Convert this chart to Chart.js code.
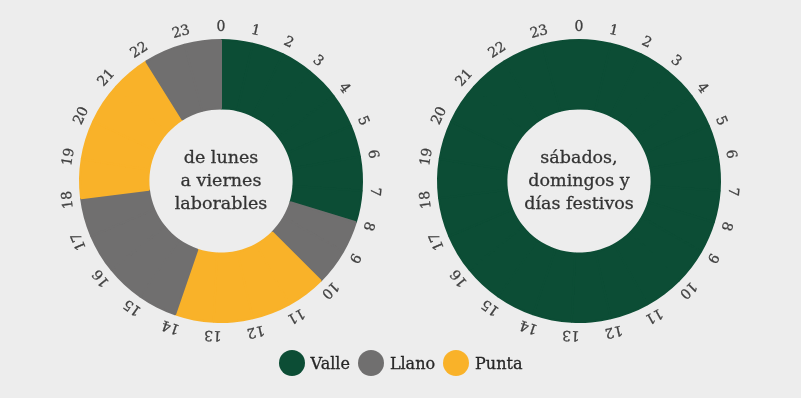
<!DOCTYPE html>
<html>
<head>
<meta charset="utf-8">
<script src="https://cdn.jsdelivr.net/npm/chart.js@4/dist/chart.umd.min.js"></script>
<style>
  html, body { margin: 0; padding: 0; background: #ededed; }
  body { width: 801px; height: 398px; position: relative; overflow: hidden; font-family: 'Roboto Slab', 'DejaVu Serif', serif; }
  .box { position: absolute; top: 1px; width: 360px; height: 360px; }
  #boxLab { left: 41px; }
  #boxFes { left: 399px; }
  .legend { position: absolute; left: 0; top: 350px; width: 801px; display: flex; justify-content: center; align-items: center; }
  .legend .item { display: flex; align-items: center; margin: 0 4px; }
  .legend .dot { width: 26px; height: 26px; border-radius: 50%; margin-right: 6px; }
  .legend span { font-size: 16px; color: #262626; -webkit-text-stroke: 0.3px #262626; }
</style>
</head>
<body>
<div class="box" id="boxLab"><canvas id="chartLab"></canvas></div>
<div class="box" id="boxFes"><canvas id="chartFes"></canvas></div>
<div class="legend" id="legend"></div>
<script>
// hour marks around the dial
const horas = ['0','1','2','3','4','5','6','7','8','9','10','11','12','13','14','15','16','17','18','19','20','21','22','23'];
// width each hour takes on the dial, as drawn (not perfectly even in the original)
const amplitudHora = [13,13,13,14,14,13,14,13,13,15,16,16,16,16,16,16,16,16,16,16,17,16,17,15];

const tarifas = ['Valle','Llano','Punta'];
const tarifaLaborables = [
  'Valle','Valle','Valle','Valle','Valle','Valle','Valle','Valle',
  'Llano','Llano',
  'Punta','Punta','Punta','Punta',
  'Llano','Llano','Llano','Llano',
  'Punta','Punta','Punta','Punta',
  'Llano','Llano'
];
const tarifaFestivos = [
  'Valle','Valle','Valle','Valle','Valle','Valle','Valle','Valle',
  'Valle','Valle','Valle','Valle','Valle','Valle','Valle','Valle',
  'Valle','Valle','Valle','Valle','Valle','Valle','Valle','Valle'
];
const textoLaborables = ['de lunes', 'a viernes', 'laborables'];
const textoFestivos = ['sábados,', 'domingos y', 'días festivos'];

const colores = { Valle: '#0c4d35', Llano: '#706f6f', Punta: '#f9b229' };
const FONT = "'Roboto Slab', 'DejaVu Serif', serif";

const hourRing = {
  id: 'hourRing',
  afterDatasetsDraw(chart, args, opts){
    const ctx = chart.ctx;
    const arcs = chart.getDatasetMeta(0).data;
    ctx.save();
    ctx.fillStyle = '#3f3f3f';
    ctx.strokeStyle = '#3f3f3f';
    ctx.lineWidth = 0.3;
    ctx.font = `14px ${FONT}`;
    ctx.textAlign = 'center';
    ctx.textBaseline = 'middle';
    let cx = 0, cy = 0;
    arcs.forEach((arc, i) => {
      const p = arc.getProps(['x','y','startAngle','outerRadius'], true);
      cx = p.x; cy = p.y;
      const r = p.outerRadius + 13;
      ctx.save();
      ctx.translate(p.x + Math.cos(p.startAngle) * r, p.y + Math.sin(p.startAngle) * r);
      ctx.rotate(p.startAngle + Math.PI / 2);
      ctx.fillText(chart.data.labels[i], 0, 0);
      ctx.strokeText(chart.data.labels[i], 0, 0);
      ctx.restore();
    });
    // center caption
    const lines = opts.lines || [];
    ctx.fillStyle = '#333';
    ctx.strokeStyle = '#333';
    ctx.font = `17.5px ${FONT}`;
    const lh = 23;
    lines.forEach((t, i) => {
      const yy = cy + (i - (lines.length - 1) / 2) * lh;
      ctx.fillText(t, cx, yy);
      ctx.strokeText(t, cx, yy);
    });
    ctx.restore();
  }
};

function makeChart(id, tarifa, lines){
  const bg = tarifa.map(t => colores[t]);
  return new Chart(document.getElementById(id), {
    type: 'doughnut',
    data: {
      labels: horas,
      datasets: [{ data: amplitudHora, backgroundColor: bg, borderColor: bg, borderWidth: 2 }]
    },
    options: {
      responsive: true,
      maintainAspectRatio: false,
      animation: false,
      cutout: '51.5%',
      layout: { padding: 38 },
      plugins: {
        legend: { display: false },
        tooltip: { enabled: false },
        hourRing: { lines }
      }
    },
    plugins: [hourRing]
  });
}

makeChart('chartLab', tarifaLaborables, textoLaborables);
makeChart('chartFes', tarifaFestivos, textoFestivos);

const leg = document.getElementById('legend');
tarifas.forEach(t => {
  const it = document.createElement('div'); it.className = 'item';
  const d = document.createElement('div'); d.className = 'dot'; d.style.background = colores[t];
  const s = document.createElement('span'); s.textContent = t;
  it.appendChild(d); it.appendChild(s); leg.appendChild(it);
});
</script>
</body>
</html>
